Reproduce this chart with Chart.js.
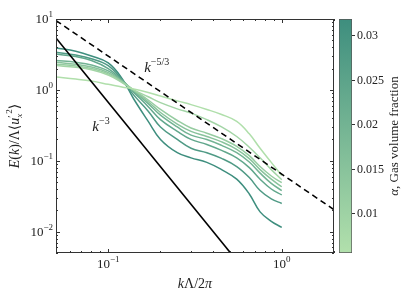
<!DOCTYPE html>
<html>
<head>
<meta charset="utf-8">
<script src="https://cdn.jsdelivr.net/npm/chart.js@4.4.0/dist/chart.umd.min.js"></script>
<style>
  body { margin: 0; background: #fff; }
  #wrap { position: relative; width: 403px; height: 302px; }
  canvas { position: absolute; top: 0; }
  #main { left: 0; }
  #cbar { left: 339px; }
</style>
</head>
<body>
<div id="wrap">
  <canvas id="main" width="403" height="302"></canvas>
  <canvas id="cbar" width="64" height="302"></canvas>
</div>
<script>
// wavenumbers k*Lambda/2pi where the spectra are sampled
const xK = [0.05, 0.065, 0.08, 0.1, 0.12, 0.14, 0.17, 0.2, 0.25, 0.3, 0.37, 0.45, 0.55, 0.65, 0.75, 0.87, 1.0];

// gas volume fraction of each run
const alphas = [0.006, 0.009, 0.012, 0.015, 0.02, 0.024, 0.028, 0.032];

// E(k) for each run (same order as alphas)
const e1 = [1.52, 1.42, 1.33, 1.2, 1.1, 1.03, 0.92, 0.82, 0.7, 0.62, 0.53, 0.45, 0.36, 0.24, 0.15, 0.095, 0.062];
const e2 = [2.2, 2.08, 1.92, 1.62, 1.27, 1.0, 0.8, 0.66, 0.54, 0.47, 0.38, 0.3, 0.22, 0.155, 0.11, 0.075, 0.054];
const e3 = [2.3, 2.18, 2.0, 1.68, 1.3, 1.0, 0.72, 0.53, 0.37, 0.29, 0.245, 0.205, 0.16, 0.118, 0.083, 0.061, 0.049];
const e4 = [2.45, 2.3, 2.1, 1.75, 1.32, 0.99, 0.68, 0.48, 0.33, 0.26, 0.22, 0.185, 0.145, 0.107, 0.075, 0.055, 0.043];
const e5 = [2.6, 2.45, 2.25, 1.85, 1.35, 0.97, 0.64, 0.44, 0.3, 0.23, 0.2, 0.165, 0.13, 0.096, 0.067, 0.048, 0.038];
const e6 = [3.2, 2.95, 2.6, 2.0, 1.38, 0.93, 0.58, 0.38, 0.26, 0.2, 0.17, 0.14, 0.11, 0.08, 0.055, 0.04, 0.033];
const e7 = [3.4, 3.1, 2.75, 2.2, 1.4, 0.85, 0.5, 0.3, 0.2, 0.15, 0.13, 0.108, 0.083, 0.058, 0.038, 0.029, 0.025];
const e8 = [3.9, 3.5, 3.0, 2.4, 1.45, 0.75, 0.36, 0.2, 0.13, 0.11, 0.095, 0.075, 0.055, 0.034, 0.019, 0.014, 0.0115];
const spectra = [e1, e2, e3, e4, e5, e6, e7, e8];

// reference slopes, end points
const slope53 = [{x: 0.05, y: 9.5}, {x: 2.0, y: 0.0204}];
const slope3 = [{x: 0.05, y: 5.4}, {x: 0.507, y: 0.005}];

// axes
const xMin = 0.05, xMax = 2.0, yMin = 0.005, yMax = 10;
const xTickLabels = [0.1, 1];
const yTickLabels = [0.01, 0.1, 1, 10];

// colour bar
const cbMin = 0.0056, cbMax = 0.0319;
const cbTicks = [0.01, 0.015, 0.02, 0.025, 0.03];

const SERIF = '"Liberation Serif", "DejaVu Serif", serif';
const lowC = [178, 224, 172], highC = [62, 142, 126];
function cmap(a) {
  let t = (a - cbMin) / (cbMax - cbMin);
  t = Math.max(0, Math.min(1, t));
  const c = lowC.map((v, i) => Math.round(v + (highC[i] - v) * t));
  return `rgb(${c[0]},${c[1]},${c[2]})`;
}

// draw a sequence of [text, style, dy, size] pieces starting at x, baseline y
function drawPieces(ctx, pieces, x, y, align) {
  const widths = pieces.map(p => {
    ctx.font = `${p[1] || ''} ${p[3] || 14}px ${SERIF}`;
    return p[4] === 'stack' ? 0 : ctx.measureText(p[0]).width;
  });
  const total = widths.reduce((s, w) => s + w, 0);
  let cx = align === 'center' ? x - total / 2 : align === 'right' ? x - total : x;
  ctx.textAlign = 'left';
  ctx.textBaseline = 'alphabetic';
  pieces.forEach((p, i) => {
    ctx.font = `${p[1] || ''} ${p[3] || 14}px ${SERIF}`;
    ctx.fillText(p[0], cx, y + (p[2] || 0));
    cx += widths[i];
  });
}

function powLabel(e) {
  return [['10', '', 0, 13], [e < 0 ? '\u2212' + Math.abs(e) : String(e), '', -6, 9]];
}

const mplAxes = {
  id: 'mplAxes',
  afterDraw(chart) {
    const {ctx, chartArea: a, scales: {x, y}} = chart;
    ctx.save();
    ctx.strokeStyle = '#333';
    ctx.fillStyle = '#222';
    ctx.lineWidth = 1;
    ctx.strokeRect(a.left + 0.5, a.top + 0.5, a.right - a.left - 1, a.bottom - a.top - 1);

    ctx.beginPath();
    for (let e = -2; e <= 0; e++) {
      for (let m = 1; m <= 9; m++) {
        const v = m * Math.pow(10, e);
        if (v < xMin - 1e-9 || v > xMax + 1e-9) continue;
        const px = Math.round(x.getPixelForValue(v)) + 0.5;
        const len = m === 1 ? 4 : 2;
        ctx.moveTo(px, a.bottom); ctx.lineTo(px, a.bottom - len);
        ctx.moveTo(px, a.top); ctx.lineTo(px, a.top + len);
      }
    }
    for (let e = -3; e <= 1; e++) {
      for (let m = 1; m <= 9; m++) {
        const v = m * Math.pow(10, e);
        if (v < yMin - 1e-9 || v > yMax + 1e-9) continue;
        const py = Math.round(y.getPixelForValue(v)) + 0.5;
        const len = m === 1 ? 4 : 2;
        ctx.moveTo(a.left, py); ctx.lineTo(a.left + len, py);
        ctx.moveTo(a.right, py); ctx.lineTo(a.right - len, py);
      }
    }
    ctx.stroke();

    xTickLabels.forEach(v => {
      drawPieces(ctx, powLabel(Math.round(Math.log10(v))), x.getPixelForValue(v), a.bottom + 15, 'center');
    });
    yTickLabels.forEach(v => {
      drawPieces(ctx, powLabel(Math.round(Math.log10(v))), a.left - 3, y.getPixelForValue(v) + 4, 'right');
    });

    // x title
    drawPieces(ctx, [['k', 'italic', 0, 14], ['\u039B/2', '', 0, 14], ['\u03C0', 'italic', 0, 14]],
      (a.left + a.right) / 2, 288, 'center');

    // y title
    ctx.save();
    ctx.translate(19, (a.top + a.bottom) / 2);
    ctx.rotate(-Math.PI / 2);
    drawPieces(ctx, [
      ['E', 'italic', 0, 14], ['(', '', 0, 14], ['k', 'italic', 0, 14], [')/\u039B\u27E8', '', 0, 14],
      ['u', 'italic', 0, 14], ['\u2032', '', -4, 10, 'stack'], ['x', 'italic', 3, 9],
      ['2', '', -7, 9], ['\u27E9', '', 0, 14]
    ], 0, 0, 'center');
    ctx.restore();

    // slope annotations
    drawPieces(ctx, [['k', 'italic', 0, 15], ['\u22125/3', '', -7, 10]],
      x.getPixelForValue(0.161), y.getPixelForValue(1.8), 'left');
    drawPieces(ctx, [['k', 'italic', 0, 15], ['\u22123', '', -7, 10]],
      x.getPixelForValue(0.081), y.getPixelForValue(0.265), 'left');
    ctx.restore();
  }
};

const datasets = [
  {data: slope53, borderColor: '#000', borderWidth: 1.6, borderDash: [6, 4]},
  {data: slope3, borderColor: '#000', borderWidth: 1.6}
];
spectra.forEach((arr, j) => {
  datasets.push({
    data: xK.map((k, i) => ({x: k, y: arr[i]})),
    borderColor: cmap(alphas[j]),
    borderWidth: 1.5,
    tension: 0.4
  });
});

new Chart(document.getElementById('main'), {
  type: 'line',
  data: {datasets},
  options: {
    responsive: false,
    animation: false,
    devicePixelRatio: 1,
    layout: {padding: {top: 19, right: 69, left: 0, bottom: 0}},
    elements: {point: {radius: 0}},
    plugins: {legend: {display: false}, tooltip: {enabled: false}},
    scales: {
      x: {
        type: 'logarithmic', min: xMin, max: xMax,
        ticks: {display: false}, grid: {display: false}, border: {display: false},
        afterFit: s => { s.height = 49; }
      },
      y: {
        type: 'logarithmic', min: yMin, max: yMax,
        ticks: {display: false}, grid: {display: false}, border: {display: false},
        afterFit: s => { s.width = 56; }
      }
    }
  },
  plugins: [mplAxes]
});

const cbTitle = {
  id: 'cbTitle',
  afterDraw(chart) {
    const {ctx, chartArea: a} = chart;
    ctx.save();
    ctx.fillStyle = '#222';
    ctx.translate(397.5 - 339, (a.top + a.bottom) / 2);
    ctx.rotate(-Math.PI / 2);
    drawPieces(ctx, [['\u03B1', 'italic', 0, 13], [', Gas volume fraction', '', 0, 13]], 0, 0, 'center');
    ctx.restore();
  }
};

new Chart(document.getElementById('cbar'), {
  type: 'bar',
  data: {
    labels: ['alpha'],
    datasets: [{
      data: [[cbMin, cbMax]],
      backgroundColor: c => {
        const {chart} = c;
        const area = chart.chartArea;
        if (!area) return cmap(0.02);
        const g = chart.ctx.createLinearGradient(0, area.bottom, 0, area.top);
        g.addColorStop(0, cmap(cbMin));
        g.addColorStop(1, cmap(cbMax));
        return g;
      },
      borderColor: '#555',
      borderWidth: 1,
      borderSkipped: false,
      barPercentage: 1,
      categoryPercentage: 1
    }]
  },
  options: {
    responsive: false,
    animation: false,
    devicePixelRatio: 1,
    layout: {padding: {top: 19, bottom: 49, left: 0, right: 0}},
    plugins: {legend: {display: false}, tooltip: {enabled: false}},
    scales: {
      x: {display: false},
      y: {
        position: 'right', min: cbMin, max: cbMax,
        afterBuildTicks: s => { s.ticks = cbTicks.map(v => ({value: v})); },
        ticks: {color: '#222', padding: 2, font: {family: SERIF, size: 12}, callback: v => String(v)},
        grid: {drawOnChartArea: false, drawTicks: true, tickLength: 3, color: '#333'},
        border: {display: false},
        afterFit: s => { s.width = 51; }
      }
    }
  },
  plugins: [cbTitle]
});
</script>
</body>
</html>
